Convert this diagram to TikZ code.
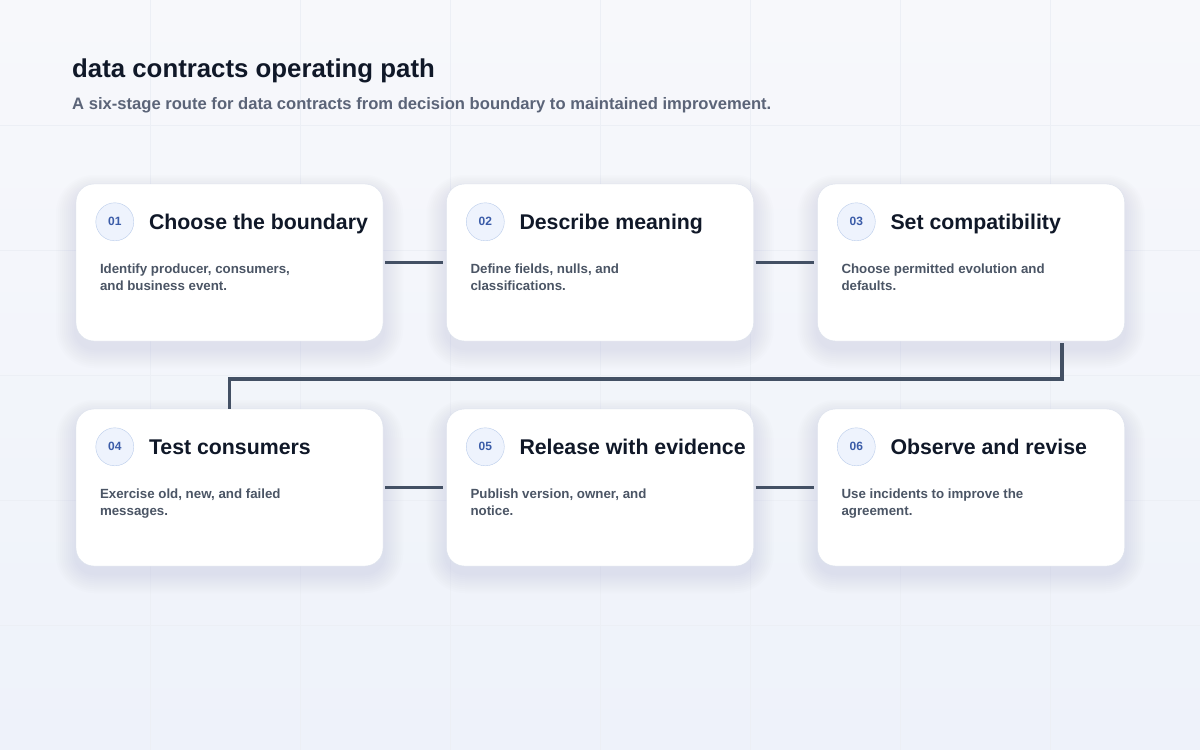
\documentclass[tikz,border=0pt]{standalone}
\usepackage{fontspec}
\setmainfont{Liberation Sans}
\usepackage{xcolor}
\usetikzlibrary{calc}
\definecolor{bgtop}{HTML}{F7F8FB}
\definecolor{bgbottom}{HTML}{EEF2FA}
\definecolor{gridcol}{HTML}{ECEFF5}
\definecolor{inkdark}{HTML}{101828}
\definecolor{inkgray}{HTML}{5B6478}
\definecolor{bodygray}{HTML}{4B5565}
\definecolor{linkcol}{HTML}{435064}
\definecolor{cardline}{HTML}{DCE2EC}
\definecolor{shadowcol}{HTML}{8A97B5}
\definecolor{numfill}{HTML}{EEF3FD}
\definecolor{numline}{HTML}{BACCEB}
\definecolor{numtext}{HTML}{3B5CA8}
\tikzset{
    stage-card/.style = {draw=cardline, fill=white, rounded corners=18pt, minimum width=307pt, minimum height=157pt, inner sep=0pt},
    stage-num/.style = {circle, draw=numline, fill=numfill, minimum size=38pt, inner sep=0pt, text=numtext, font=\fontsize{12}{14}\selectfont\bfseries},
    stage-title/.style = {anchor=base west, inner sep=0pt, text=inkdark, font=\fontsize{21.3}{25}\selectfont\bfseries},
    stage-text/.style = {anchor=north west, inner sep=0pt, align=left, text=bodygray, font=\fontsize{13.3}{17}\selectfont\bfseries},
    link/.style = {draw=linkcol, line width=3.5pt, shorten <=2pt, shorten >=3pt},
}

\begin{document}
\begin{tikzpicture}[x=1pt, y=-1pt]
% background and faint grid
\shade[top color=bgtop, bottom color=bgbottom] (0,0) rectangle (1200,750);
\useasboundingbox (0,0) rectangle (1200,750);
\foreach \gx in {150,300,...,1050} \draw[gridcol, line width=0.6pt] (\gx,0) -- (\gx,750);
\foreach \gy in {125,250,...,625} \draw[gridcol, line width=0.6pt] (0,\gy) -- (1200,\gy);

% heading
\node[anchor=base west, inner sep=0pt, text=inkdark, font=\fontsize{25.8}{30}\selectfont\bfseries] (title) at (72,77) {data contracts operating path};
\node[anchor=base west, inner sep=0pt, text=inkgray, font=\fontsize{16.6}{20}\selectfont\bfseries] (subtitle) at (72,109) {A six-stage route for data contracts from decision boundary to maintained improvement.};

% stage cards
\foreach \i/\cx/\cy/\ttl/\dsc in {
    1/229.5/262.5/{Choose the boundary}/{Identify producer, consumers,\\and business event.},
    2/600/262.5/{Describe meaning}/{Define fields, nulls, and\\classifications.},
    3/971/262.5/{Set compatibility}/{Choose permitted evolution and\\defaults.},
    4/229.5/487.5/{Test consumers}/{Exercise old, new, and failed\\messages.},
    5/600/487.5/{Release with evidence}/{Publish version, owner, and\\notice.},
    6/971/487.5/{Observe and revise}/{Use incidents to improve the\\agreement.}}{
    % soft shadow
    \foreach \s in {1,...,10}
        \fill[shadowcol, opacity=0.016, rounded corners=18pt+\s*2pt]
            (\cx-153.5-\s*2, \cy-78.5-\s*1.6+7) rectangle (\cx+153.5+\s*2, \cy+78.5+\s*2+7);
    \node[stage-card] (card\i) at (\cx,\cy) {};
    \node[stage-num] (num\i) at ($(card\i.north west)+(39,38)$) {0\i};
    \node[stage-title] (head\i) at ($(card\i.north west)+(73,46)$) {\ttl};
    \node[stage-text] (text\i) at ($(card\i.north west)+(24,80)$) {\dsc};
}

% connectors
\coordinate (bend) at (card4.north |- 0,379);
\draw[link] (card1.east) -- (card2.west);
\draw[link] (card2.east) -- (card3.west);
\draw[link, shorten >=0pt] ([xshift=91pt]card3.south) |- (bend) -- (card4.north);
\draw[link] (card4.east) -- (card5.west);
\draw[link] (card5.east) -- (card6.west);
\end{tikzpicture}
\end{document}
